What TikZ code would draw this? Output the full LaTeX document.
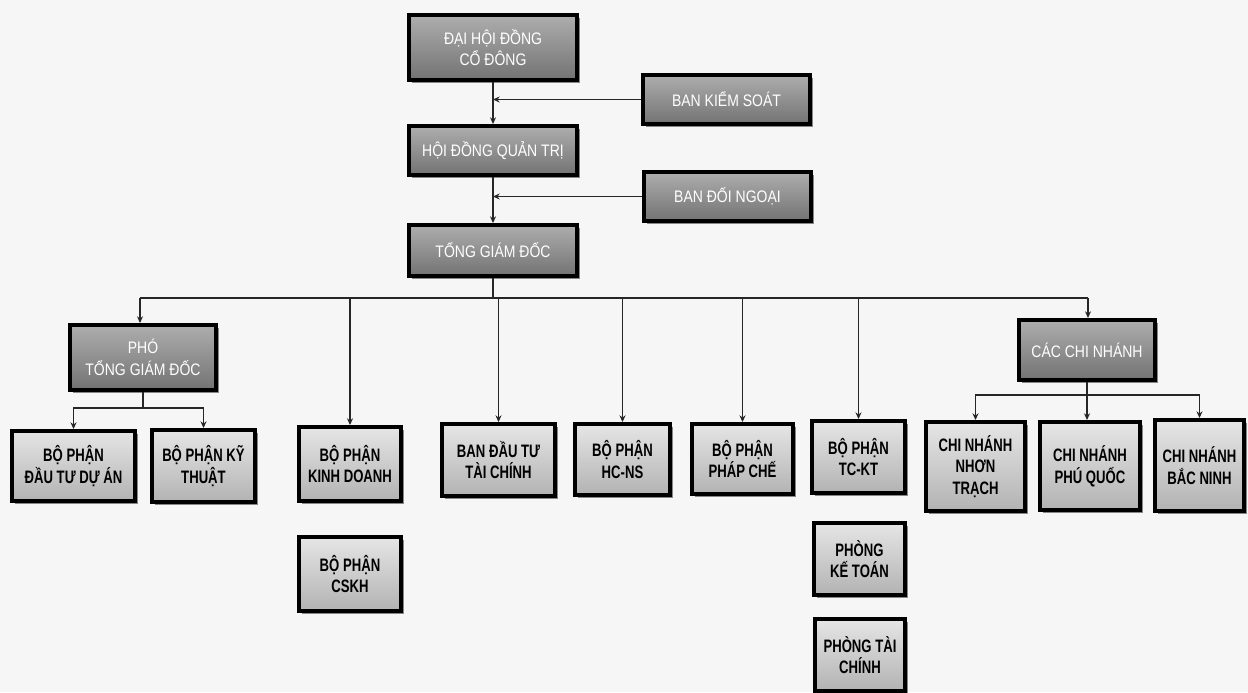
\documentclass[tikz,border=0pt]{standalone}
\usepackage{fontspec}
\setmainfont{Liberation Sans}
\newfontfamily\topfont[FakeStretch=0.84]{Liberation Sans}
\newfontfamily\lowfont[FakeStretch=0.73]{Liberation Sans}
\usetikzlibrary{shadows,arrows.meta}
\definecolor{bg}{HTML}{F6F6F6}
\tikzset{
 box/.style={draw=black, line width=3pt, align=center, inner sep=1pt,
   drop shadow={shadow xshift=2pt, shadow yshift=-2pt, opacity=.45, fill=black}},
 topbox/.style={box, top color=black!32, bottom color=black!55, text=white,
   font=\topfont\fontsize{12.5}{16}\selectfont},
 lowbox/.style={box, top color=black!10, bottom color=black!30, text=black,
   font=\lowfont\bfseries\fontsize{13.5}{16.3}\selectfont},
 sz/.style 2 args={minimum width=(#1-4)*0.75pt, minimum height=(#2-4)*0.75pt},
 conn/.style={draw=black!85, line width=1.1pt},
 arr/.style={conn, -{Stealth[length=5pt,width=4.5pt]}},
}
\begin{document}
\begin{tikzpicture}[x=0.75pt,y=-0.75pt]
\useasboundingbox (0,0) rectangle (1248,692);
\clip (0,0) rectangle (1248,692);
\fill[bg] (0,0) rectangle (1248,692);

% top column
\node[topbox, sz={172}{69}] (dh) at (493,47.5) {ĐẠI HỘI ĐỒNG\\CỔ ĐÔNG};
\node[topbox, sz={171}{53}] (bks) at (726.5,99.5) {BAN KIỂM SOÁT};
\node[topbox, sz={172}{53}] (hdqt) at (493,150.5) {HỘI ĐỒNG QUẢN TRỊ};
\node[topbox, sz={171}{53}] (bdn) at (727.5,196.5) {BAN ĐỐI NGOẠI};
\node[topbox, sz={172}{55}] (tgd) at (493,250.5) {TỔNG GIÁM ĐỐC};
\node[topbox, sz={150}{69}] (pho) at (143,357.5) {PHÓ\\TỔNG GIÁM ĐỐC};
\node[topbox, sz={140}{64}] (ccn) at (1087,350) {CÁC CHI NHÁNH};

% lower boxes
\node[lowbox, sz={127}{74}] (dtda) at (73.5,466) {BỘ PHẬN\\ĐẦU TƯ DỰ ÁN};
\node[lowbox, sz={107}{76}] (kt) at (203.5,466) {BỘ PHẬN KỸ\\THUẬT};
\node[lowbox, sz={106}{78}] (kd) at (350,464) {BỘ PHẬN\\KINH DOANH};
\node[lowbox, sz={117}{76}] (bdttc) at (498.5,460) {BAN ĐẦU TƯ\\TÀI CHÍNH};
\node[lowbox, sz={99}{75}] (hcns) at (622.5,459.5) {BỘ PHẬN\\HC-NS};
\node[lowbox, sz={105}{74}] (pc) at (742.5,459) {BỘ PHẬN\\PHÁP CHẾ};
\node[lowbox, sz={97}{76}] (tckt) at (858.5,457) {BỘ PHẬN\\TC-KT};
\node[lowbox, sz={103}{93}] (nt) at (975.5,466.5) {CHI NHÁNH\\NHƠN\\TRẠCH};
\node[lowbox, sz={104}{92}] (pq) at (1090,466) {CHI NHÁNH\\PHÚ QUỐC};
\node[lowbox, sz={93}{95}] (bn) at (1199.5,465.5) {CHI NHÁNH\\BẮC NINH};
\node[lowbox, sz={106}{78}] (cskh) at (350,574) {BỘ PHẬN\\CSKH};
\node[lowbox, sz={95}{76}] (ketoan) at (859.5,559) {PHÒNG\\KẾ TOÁN};
\node[lowbox, sz={94}{76}] (taichinh) at (860,655) {PHÒNG TÀI\\CHÍNH};

% connectors top
\draw[arr] (dh.south) -- (hdqt.north);
\draw[arr] (bks.west) -- (bks.west -| dh.south);
\draw[arr] (hdqt.south) -- (tgd.north);
\draw[arr] (bdn.west) -- (bdn.west -| hdqt.south);

% main bus
\coordinate (busL) at (140,298);
\coordinate (busR) at (1088,298);
\draw[conn, line width=1.5pt] (busL) -- (busR);
\draw[conn] (tgd.south) -- (tgd.south |- busL);
\draw[arr] (busL) -- (busL |- pho.north);
\draw[arr] (busL -| kd.north) -- (kd.north);
\draw[arr] (busL -| bdttc.north) -- (bdttc.north);
\draw[arr] (busL -| hcns.north) -- (hcns.north);
\draw[arr] (busL -| pc.north) -- (pc.north);
\draw[arr] (busL -| tckt.north) -- (tckt.north);
\draw[arr] (busR) -- (busR |- ccn.north);

% pho subtree
\coordinate (phoBus) at (0,408);
\draw[conn] (pho.south) -- (pho.south |- phoBus);
\draw[arr] (pho.south |- phoBus) -| (dtda.north);
\draw[arr] (pho.south |- phoBus) -| (kt.north);

% branches subtree
\coordinate (ccnBus) at (0,395);
\draw[arr] (ccn.south) -- (ccn.south |- pq.north);
\draw[arr] (ccn.south |- ccnBus) -| (nt.north);
\draw[arr] (ccn.south |- ccnBus) -| (bn.north);
\end{tikzpicture}
\end{document}
